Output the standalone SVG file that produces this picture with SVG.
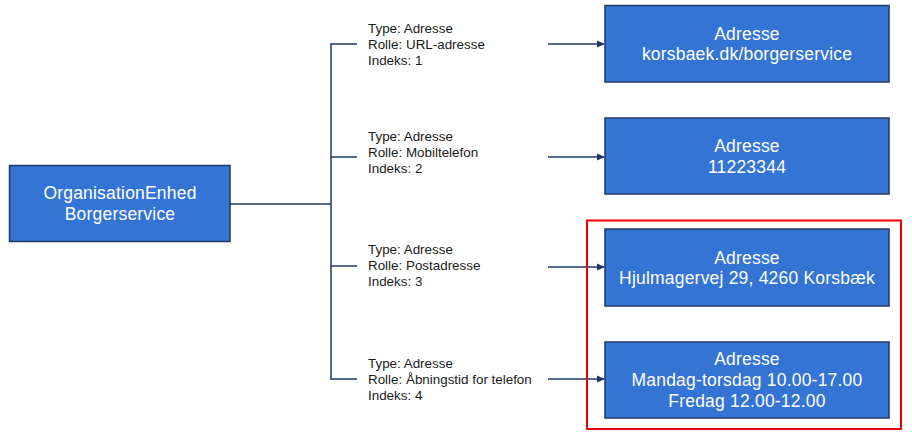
<svg xmlns="http://www.w3.org/2000/svg" width="912" height="441" viewBox="0 0 912 441">
<style>
.box{fill:#3474d4;stroke:#203864;stroke-width:1.5}
.bt{font-family:"Liberation Sans",Arial,sans-serif;font-size:17.5px;letter-spacing:0.2px;fill:#ffffff;text-anchor:middle}
.lbl{font-family:"Liberation Sans",Arial,sans-serif;font-size:13.4px;fill:#1a1a1a}
.ln{stroke:#203864;stroke-width:1.5;fill:none}
</style>
<defs>
<marker id="ah" markerWidth="8" markerHeight="8" refX="7" refY="4" orient="auto" markerUnits="userSpaceOnUse">
<path d="M0,0.5 L8,4 L0,7.5 Z" fill="#203864"/>
</marker>
</defs>
<rect width="912" height="441" fill="#ffffff"/>
<g id="connectors">
<path class="ln" d="M230,204 H331"/>
<path class="ln" d="M357,44 H331 V379 H357"/>
<path class="ln" d="M331,157 H357"/>
<path class="ln" d="M331,266 H357"/>
<line class="ln" x1="548" y1="44" x2="604" y2="44" marker-end="url(#ah)"/>
<line class="ln" x1="548" y1="157" x2="604" y2="157" marker-end="url(#ah)"/>
<line class="ln" x1="548" y1="267" x2="604" y2="267" marker-end="url(#ah)"/>
<line class="ln" x1="548" y1="379" x2="604" y2="379" marker-end="url(#ah)"/>
</g>
<g id="labels">
<text class="lbl" x="368" y="33">Type: Adresse</text>
<text class="lbl" x="368" y="49">Rolle: URL-adresse</text>
<text class="lbl" x="368" y="65">Indeks: 1</text>
<text class="lbl" x="368" y="141">Type: Adresse</text>
<text class="lbl" x="368" y="157">Rolle: Mobiltelefon</text>
<text class="lbl" x="368" y="173">Indeks: 2</text>
<text class="lbl" x="368" y="254">Type: Adresse</text>
<text class="lbl" x="368" y="270">Rolle: Postadresse</text>
<text class="lbl" x="368" y="286">Indeks: 3</text>
<text class="lbl" x="368" y="368">Type: Adresse</text>
<text class="lbl" x="368" y="384">Rolle: Åbningstid for telefon</text>
<text class="lbl" x="368" y="400">Indeks: 4</text>
</g>
<g id="org">
<rect class="box" x="9.5" y="165.5" width="220.5" height="76"/>
<text class="bt" x="120" y="199">OrganisationEnhed</text>
<text class="bt" x="120" y="220">Borgerservice</text>
</g>
<g id="adr1">
<rect class="box" x="605" y="5.5" width="284" height="76.5"/>
<text class="bt" x="747" y="39.5">Adresse</text>
<text class="bt" x="747" y="60">korsbaek.dk/borgerservice</text>
</g>
<g id="adr2">
<rect class="box" x="605" y="118" width="284" height="76"/>
<text class="bt" x="747" y="152">Adresse</text>
<text class="bt" x="747" y="172.5">11223344</text>
</g>
<g id="adr3">
<rect class="box" x="605" y="229" width="284" height="77"/>
<text class="bt" x="747" y="263.5">Adresse</text>
<text class="bt" x="747" y="284">Hjulmagervej 29, 4260 Korsbæk</text>
</g>
<g id="adr4">
<rect class="box" x="605" y="342" width="284" height="76"/>
<text class="bt" x="747" y="365">Adresse</text>
<text class="bt" x="747" y="386">Mandag-torsdag 10.00-17.00</text>
<text class="bt" x="747" y="406.5">Fredag 12.00-12.00</text>
</g>
<rect id="highlight" x="587" y="220.5" width="314" height="208.5" fill="none" stroke="#ee0000" stroke-width="2"/>
</svg>
